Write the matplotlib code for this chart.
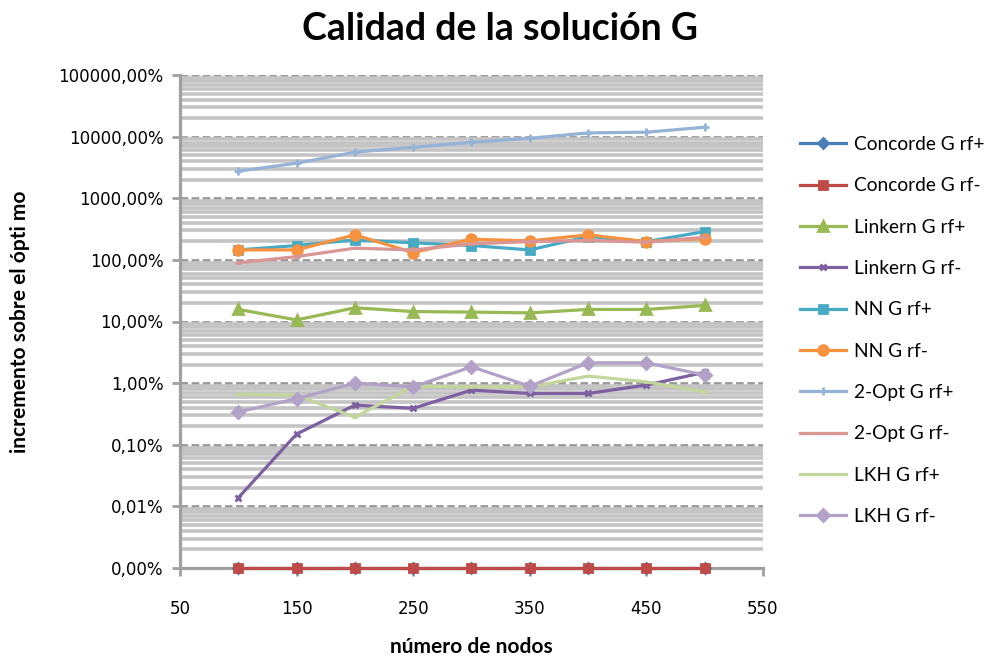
import matplotlib
matplotlib.use("Agg")
import matplotlib.pyplot as plt
from matplotlib.ticker import FixedLocator, FuncFormatter, LogLocator, NullFormatter

# nodes
nodes = [100, 150, 200, 250, 300, 350, 400, 450, 500]

# increase over optimum, in percent (0 plotted at the axis floor, 0,001%)
concorde_rf_pos = [0.001] * 9
concorde_rf_neg = [0.001] * 9
linkern_rf_pos = [15.7, 10.6, 16.7, 14.5, 14.2, 13.8, 15.7, 15.7, 18.2]
linkern_rf_neg = [0.0138, 0.149, 0.44, 0.39, 0.77, 0.68, 0.68, 0.93, 1.5]
nn_rf_pos = [145, 171, 211, 189, 171, 145, 239, 198, 288]
nn_rf_neg = [145, 145, 255, 131, 217, 203, 255, 198, 222]
opt2_rf_pos = [2750, 3700, 5600, 6700, 8100, 9400, 11500, 11800, 14200]
opt2_rf_neg = [90, 113, 155, 145, 182, 198, 206, 194, 233]
lkh_rf_pos = [0.66, 0.64, 0.28, 0.89, 0.87, 0.87, 1.3, 1.05, 0.72]
lkh_rf_neg = [0.34, 0.56, 1.0, 0.87, 1.84, 0.89, 2.14, 2.14, 1.35]

series = [
    ("Concorde G rf+", concorde_rf_pos, "#4A7EBB", "D", 5),
    ("Concorde G rf-", concorde_rf_neg, "#BE4B48", "s", 6),
    ("Linkern G rf+", linkern_rf_pos, "#98B954", "^", 7),
    ("Linkern G rf-", linkern_rf_neg, "#7D60A0", "x", 5),
    ("NN G rf+", nn_rf_pos, "#46AAC5", "s", 5.5),
    ("NN G rf-", nn_rf_neg, "#F69240", "o", 7),
    ("2-Opt G rf+", opt2_rf_pos, "#95B3D7", "+", 6),
    ("2-Opt G rf-", opt2_rf_neg, "#D99694", "_", 5),
    ("LKH G rf+", lkh_rf_pos, "#C3D69B", "_", 5),
    ("LKH G rf-", lkh_rf_neg, "#B3A2C7", "D", 6),
]

plt.rcParams["lines.scale_dashes"] = False

fig = plt.figure(figsize=(9.91, 6.61), dpi=100)
ax = fig.add_axes([180 / 991, 1 - 568 / 661, (763 - 180) / 991, (568 - 75) / 661])

ax.set_yscale("log")
ax.set_ylim(0.001, 100000)
ax.set_xlim(50, 550)

ax.xaxis.set_major_locator(FixedLocator([50, 150, 250, 350, 450, 550]))
ax.yaxis.set_major_locator(FixedLocator([10.0 ** k for k in range(-3, 6)]))
ax.yaxis.set_minor_locator(LogLocator(base=10, subs=range(2, 10), numticks=20))
ax.yaxis.set_minor_formatter(NullFormatter())
ax.yaxis.set_major_formatter(FuncFormatter(lambda v, p: f"{v:.2f}".replace(".", ",") + "%"))

ax.grid(True, which="minor", axis="y", color="#C4C4C4", linewidth=2.6, zorder=0)
ax.grid(True, which="major", axis="y", color="#999999", linewidth=2.0,
        linestyle=(0, (5.5, 2.5)), zorder=0.5)
ax.set_axisbelow(True)

for name, vals, col, mk, ms in series:
    ax.plot(nodes, vals, color=col, lw=2.3, marker=mk, ms=ms, mew=2,
            label=name, clip_on=False, zorder=3)

for side in ["top", "right"]:
    ax.spines[side].set_visible(False)
for side in ["left", "bottom"]:
    ax.spines[side].set_color("#A0A0A0")
    ax.spines[side].set_linewidth(2.3)

ax.tick_params(axis="y", which="major", length=6, width=2, color="#A0A0A0",
               labelsize=12, pad=6, labelcolor="#000000")
ax.tick_params(axis="y", which="minor", length=0)
ax.tick_params(axis="x", length=6, width=2, color="#A0A0A0", labelsize=12, pad=17)

ax.set_xlabel("número de nodos", fontsize=15, fontweight="bold", family="Lato", labelpad=14)
ax.set_ylabel("incremento sobre el ópti mo", fontsize=15, fontweight="bold", family="Lato")
ax.yaxis.set_label_coords(-0.258, 0.5)

fig.suptitle("Calidad de la solución G", x=0.505, y=0.982, fontsize=27,
             fontweight="bold", family="Lato")

fig.legend(loc="upper left", bbox_to_anchor=(800 / 991, 1 - 136 / 661), frameon=False,
           prop={"family": "Lato", "size": 13.8}, handlelength=2.4, handletextpad=0.4,
           labelspacing=1.27, borderpad=0, borderaxespad=0)

fig.savefig("out.png", dpi=100)
